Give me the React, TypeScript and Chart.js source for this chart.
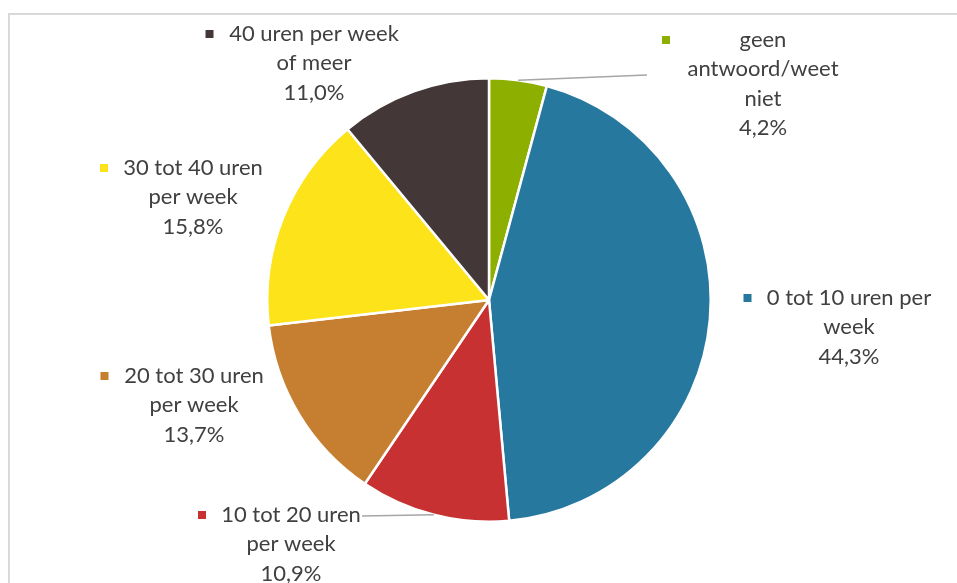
import { useEffect, useRef } from "react";
import { Chart, registerables } from "chart.js";
Chart.register(...registerables);

// ---- data ----
const categories = [
  "geen antwoord/weet niet",
  "0 tot 10 uren per week",
  "10 tot 20 uren per week",
  "20 tot 30 uren per week",
  "30 tot 40 uren per week",
  "40 uren per week of meer",
];
const values = [4.2, 44.3, 10.9, 13.7, 15.8, 11.0];
const valueLabels = ["4,2%", "44,3%", "10,9%", "13,7%", "15,8%", "11,0%"];
const labelLines = [
  ["geen", "antwoord/weet", "niet"],
  ["0 tot 10 uren per", "week"],
  ["10 tot 20 uren", "per week"],
  ["20 tot 30 uren", "per week"],
  ["30 tot 40 uren", "per week"],
  ["40 uren per week", "of meer"],
];

// ---- styles / layout ----
const colors = ["#8DB000", "#26789E", "#C83131", "#C67F30", "#FDE31A", "#433837"];
const labelLayout = [
  { cx: 763, y: 40, keyX: 666, leader: { x: 647, y: 75 } },
  { cx: 849, y: 298, keyX: 747.5 },
  { cx: 291, y: 515, keyX: 202, leader: { x: 362, y: 516 } },
  { cx: 194, y: 376, keyX: 104.5 },
  { cx: 193, y: 168, keyX: 104 },
  { cx: 314, y: 34, keyX: 209.5 },
];
const FONT = "22px Lato";
const LINE_H = 29.3;
const TEXT_COLOR = "#404040";

const framePlugin = {
  id: "frame",
  beforeDraw(chart: any) {
    const ctx = chart.ctx;
    ctx.save();
    ctx.fillStyle = "#ffffff";
    ctx.fillRect(0, 0, chart.width, chart.height);
    ctx.strokeStyle = "#d9d9d9";
    ctx.lineWidth = 2;
    ctx.strokeRect(9, 14, chart.width + 20, chart.height + 20);
    ctx.restore();
  },
};

const labelPlugin = {
  id: "outerLabels",
  afterDatasetsDraw(chart: any) {
    const ctx = chart.ctx;
    const meta = chart.getDatasetMeta(0);
    ctx.save();
    meta.data.forEach((arc: any, i: number) => {
      const lay = labelLayout[i];
      const p = arc.getProps(["x", "y", "startAngle", "endAngle", "outerRadius"], true);
      if (lay.leader) {
        const mid = (p.startAngle + p.endAngle) / 2;
        const ex = p.x + Math.cos(mid) * p.outerRadius;
        const ey = p.y + Math.sin(mid) * p.outerRadius;
        ctx.strokeStyle = "#a6a6a6";
        ctx.lineWidth = 1.5;
        ctx.beginPath();
        ctx.moveTo(lay.leader.x, lay.leader.y);
        ctx.lineTo(ex, ey);
        ctx.stroke();
      }
      // key
      ctx.fillStyle = colors[i];
      ctx.fillRect(lay.keyX - 4, lay.y - 4, 8, 8);
      // text
      ctx.fillStyle = TEXT_COLOR;
      ctx.font = FONT;
      ctx.textAlign = "center";
      ctx.textBaseline = "middle";
      const lines = [...labelLines[i], valueLabels[i]];
      lines.forEach((t, j) => {
        ctx.fillText(t, lay.cx, lay.y + j * LINE_H);
      });
    });
    ctx.restore();
  },
};

export default function App() {
  const ref = useRef<HTMLCanvasElement>(null);
  useEffect(() => {
    if (!ref.current) return;
    const chart = new Chart(ref.current, {
      type: "pie",
      data: {
        labels: categories,
        datasets: [
          {
            data: values,
            backgroundColor: colors,
            borderColor: "#ffffff",
            borderWidth: 2.5,
          },
        ],
      },
      options: {
        responsive: false,
        animation: false,
        devicePixelRatio: 1,
        layout: { padding: { top: 77, bottom: 60, left: 266, right: 245 } },
        plugins: {
          legend: { display: false },
          tooltip: { enabled: false },
        },
        events: [],
      },
      plugins: [framePlugin, labelPlugin],
    });
    return () => chart.destroy();
  }, []);
  return (
    <div style={{ position: "fixed", left: 0, top: 0, width: 957, height: 583, background: "#fff" }}>
      <canvas ref={ref} width={957} height={583} style={{ display: "block" }} />
    </div>
  );
}
